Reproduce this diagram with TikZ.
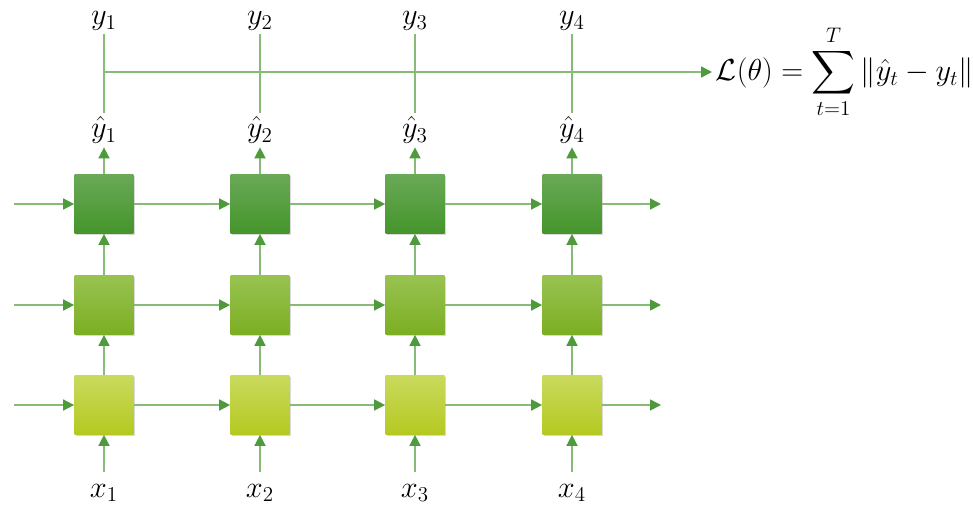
\documentclass[tikz,border=0pt]{standalone}
\usepackage{exscale}
\usepackage{amsmath}
\usepackage{tikz}
\usetikzlibrary{arrows.meta,shadows,positioning}
\definecolor{arrgreen}{HTML}{4E9A3C}
\definecolor{linegreen}{HTML}{86BC77}
\definecolor{lowtop}{HTML}{C9DA5C}
\definecolor{lowbot}{HTML}{B5C921}
\definecolor{midtop}{HTML}{98C352}
\definecolor{midbot}{HTML}{7CAE22}
\definecolor{hightop}{HTML}{6AA957}
\definecolor{highbot}{HTML}{44952A}
\tikzset{
  cell/.style = {
    minimum size=1.18cm, inner sep=0pt,
    drop shadow={opacity=0.3, shadow xshift=0.8pt, shadow yshift=-1pt}
  },
  rowlow/.style  = {cell, top color=lowtop, bottom color=lowbot},
  rowmid/.style  = {cell, top color=midtop, bottom color=midbot},
  rowhigh/.style = {cell, top color=hightop, bottom color=highbot},
  lbl/.style = {inner sep=2pt, font=\LARGE},
  ln/.style  = {draw=linegreen, line width=0.9pt},
  arr/.style = {ln, -{Triangle[length=2.2mm, width=2.2mm, color=arrgreen]}}
}

\begin{document}
\begin{tikzpicture}[x=0.02cm, y=-0.02cm]
\useasboundingbox (0,0) rectangle (973,527);
% columns: cells, labels, vertical connectors
\foreach \c/\px in {1/104,2/260,3/415,4/572}{
  \node[rowlow]  (a\c) at (\px,405) {};
  \node[rowmid]  (b\c) at (\px,305) {};
  \node[rowhigh] (h\c) at (\px,204) {};
  \node[lbl, inner sep=7pt] (x\c) at (\px,493) {$x_\c$};
  \node[lbl] (yh\c) at (\px,130) {$\hat{y}_\c$};
  \node[lbl] (y\c) at (\px,21) {$y_\c$};
  \draw[arr] (x\c) -- (a\c);
  \draw[arr] (a\c) -- (b\c);
  \draw[arr] (b\c) -- (h\c);
  \draw[arr] (h\c) -- (yh\c);
  \draw[ln] (y\c) -- (yh\c);
}
% rows: recurrent connectors
\foreach \r/\py in {a/405,b/305,h/204}{
  \coordinate (in\r) at (14,\py);
  \coordinate (out\r) at (661,\py);
  \draw[arr] (in\r) -- (\r1);
  \draw[arr] (\r1) -- (\r2);
  \draw[arr] (\r2) -- (\r3);
  \draw[arr] (\r3) -- (\r4);
  \draw[arr] (\r4) -- (out\r);
}
% loss
\coordinate (lossin) at (712,72);
\node[anchor=west, inner sep=2pt, font=\LARGE] (loss) at (lossin)
  {$\displaystyle \mathcal{L}(\theta)=\sum_{t=1}^{T}\|\hat{y}_t-y_t\|$};
\draw[arr] (yh1 |- lossin) -- (loss);
\end{tikzpicture}
\end{document}
